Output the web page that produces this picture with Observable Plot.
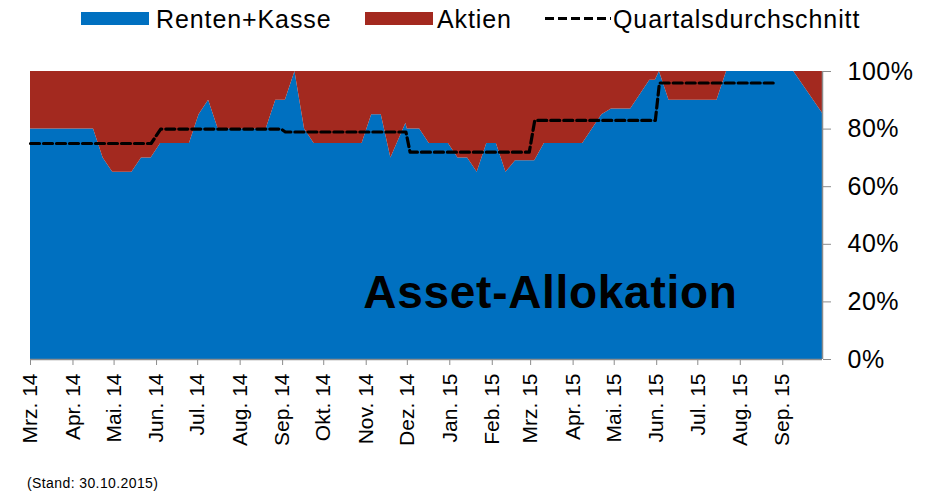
<!DOCTYPE html>
<html>
<head>
<meta charset="utf-8">
<script src="https://cdn.jsdelivr.net/npm/d3@7"></script>
<script src="https://cdn.jsdelivr.net/npm/@observablehq/plot@0.6"></script>
<style>
  html, body { margin: 0; padding: 0; background: #fff; width: 930px; height: 492px; overflow: hidden; }
  body { font-family: "Liberation Sans", Arial, sans-serif; }
  #legend { position: relative; height: 42px; font-size: 25px; letter-spacing: 0.9px; color: #000; }
  #legend .sw { position: absolute; top: 12px; height: 13px; }
  #legend .lt { position: absolute; top: 4px; line-height: 30px; white-space: nowrap; }
  #caption { font-size: 14px; letter-spacing: 0.4px; line-height: 14px; padding-left: 27px; margin-top: 16px; color: #000; }
</style>
</head>
<body>
<div id="legend">
  <div class="sw" style="left:81px;width:68px;background:#0070C0"></div>
  <div class="lt" style="left:156px">Renten+Kasse</div>
  <div class="sw" style="left:365px;width:68px;background:#A3291F"></div>
  <div class="lt" style="left:437px">Aktien</div>
  <svg class="sw" style="left:545px" width="66" height="13"><line x1="0" y1="6.5" x2="66" y2="6.5" stroke="#000" stroke-width="3" stroke-dasharray="9,4"/></svg>
  <div class="lt" style="left:613px">Quartalsdurchschnitt</div>
</div>
<div id="chart"></div>
<div id="caption">(Stand: 30.10.2015)</div>
<script>
// ---- data ----
const dates = [
  "2014-03-01","2014-04-16","2014-04-23","2014-04-30","2014-05-14","2014-05-21","2014-05-28",
  "2014-06-04","2014-06-25","2014-07-02","2014-07-09","2014-07-16","2014-08-20","2014-08-27",
  "2014-09-03","2014-09-10","2014-09-17","2014-09-24","2014-10-29","2014-11-05","2014-11-12",
  "2014-11-19","2014-11-30","2014-12-01","2014-12-10","2014-12-17","2014-12-31","2015-01-07",
  "2015-01-14","2015-01-21","2015-01-28","2015-02-04","2015-02-11","2015-02-18","2015-03-04",
  "2015-03-11","2015-04-08","2015-04-22","2015-04-29","2015-05-13","2015-05-27","2015-05-31",
  "2015-06-03","2015-06-10","2015-07-15","2015-07-22","2015-09-09","2015-09-30"
];
const renten = [
  80, 80, 70, 65, 65, 70, 70,
  75, 75, 85, 90, 80, 80, 90,
  90, 100, 80, 75, 75, 85, 85,
  70, 82, 80, 80, 75, 75, 70,
  70, 65, 75, 75, 65, 69, 69,
  75, 75, 85, 87, 87, 97, 97,
  100, 90, 90, 100, 100, 85.5
];
const aktien = [
  20, 20, 30, 35, 35, 30, 30,
  25, 25, 15, 10, 20, 20, 10,
  10, 0, 20, 25, 25, 15, 15,
  30, 18, 20, 20, 25, 25, 30,
  30, 35, 25, 25, 35, 31, 31,
  25, 25, 15, 13, 13, 3, 3,
  0, 10, 10, 0, 0, 14.5
];
const avgDates = [
  "2014-03-01","2014-05-28","2014-06-04","2014-08-31","2014-09-03","2014-11-30",
  "2014-12-03","2015-02-28","2015-03-04","2015-05-31","2015-06-03","2015-08-27"
];
const avgValues = [75, 75, 80, 80, 79, 79, 72, 72, 83, 83, 96, 96];

const tickDates = [
  "2014-03-01","2014-04-01","2014-05-01","2014-06-01","2014-07-01","2014-08-01","2014-09-01",
  "2014-10-01","2014-11-01","2014-12-01","2015-01-01","2015-02-01","2015-03-01","2015-04-01",
  "2015-05-01","2015-06-01","2015-07-01","2015-08-01","2015-09-01"
];
const tickLabels = [
  "Mrz. 14","Apr. 14","Mai. 14","Jun. 14","Jul. 14","Aug. 14","Sep. 14",
  "Okt. 14","Nov. 14","Dez. 14","Jan. 15","Feb. 15","Mrz. 15","Apr. 15",
  "Mai. 15","Jun. 15","Jul. 15","Aug. 15","Sep. 15"
];
const yTicks = [0, 20, 40, 60, 80, 100];
const seriesNames = ["Renten+Kasse", "Aktien"];
const seriesColors = ["#0070C0", "#A3291F"];
const title = "Asset-Allokation";

// ---- build tables ----
const parse = s => new Date(s + "T00:00:00Z");
const table = [];
dates.forEach((d, i) => table.push({date: parse(d), series: seriesNames[0], value: renten[i]}));
dates.forEach((d, i) => table.push({date: parse(d), series: seriesNames[1], value: aktien[i]}));
const avg = avgDates.map((d, i) => ({date: parse(d), value: avgValues[i]}));
const ticks = tickDates.map(parse);
const labelMap = new Map(tickDates.map((d, i) => [+parse(d), tickLabels[i]]));
const xDomain = [parse(dates[0]), parse(dates[dates.length - 1])];

const chart = Plot.plot({
  width: 930,
  height: 418,
  marginTop: 29,
  marginLeft: 30,
  marginRight: 108,
  marginBottom: 101,
  style: {fontFamily: "'Liberation Sans', Arial, sans-serif", color: "#000", background: "#fff"},
  x: {type: "utc", domain: xDomain},
  y: {domain: [0, 100]},
  color: {domain: seriesNames, range: seriesColors},
  marks: [
    Plot.areaY(table, Plot.stackY({x: "date", y: "value", fill: "series", order: seriesNames})),
    Plot.lineY(avg, {x: "date", y: "value", stroke: "#000", strokeWidth: 3.2, strokeDasharray: "9,4"}),
    Plot.text([title], {frameAnchor: "bottom-right", dx: -85, dy: -52, lineAnchor: "bottom",
      textAnchor: "end", fontSize: 46, fontWeight: "bold", fill: "#000"}),
    Plot.ruleY([0], {stroke: "#8c8c8c", strokeWidth: 1.5}),
    Plot.ruleX([xDomain[1]], {stroke: "#8c8c8c", strokeWidth: 1.5}),
    Plot.axisX(ticks, {
      tickRotate: -90, tickSize: 6, tickPadding: 8, fontSize: 21, stroke: "#8c8c8c",
      tickFormat: d => labelMap.get(+d), label: null
    }),
    Plot.axisY(yTicks, {
      anchor: "right", tickSize: 8, tickPadding: 17, fontSize: 25, stroke: "#8c8c8c",
      tickFormat: d => d + "%", label: null
    })
  ]
});
d3.select(chart).selectAll("text")
  .filter(function() { return this.textContent === title; })
  .style("letter-spacing", "0.7px");
d3.select(chart).selectAll("text")
  .filter(function() { return /%$/.test(this.textContent); })
  .style("letter-spacing", "0.5px");
document.getElementById("chart").appendChild(chart);
</script>
</body>
</html>
